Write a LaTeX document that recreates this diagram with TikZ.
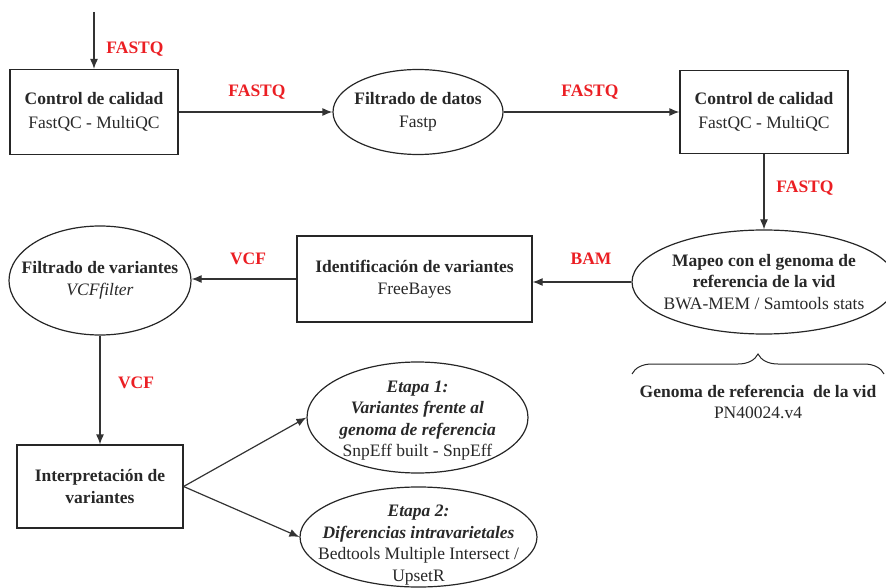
\documentclass[tikz,border=0pt]{standalone}
\usepackage{fontspec}
\setmainfont{Liberation Serif}
\newfontfamily\tnr{Liberation Serif}
\usetikzlibrary{arrows.meta,shapes.geometric,decorations.pathreplacing}
\definecolor{lbl}{RGB}{235,30,35}
\definecolor{txt}{RGB}{40,40,40}
\begin{document}
\begin{tikzpicture}[x=1pt,y=-1pt, font=\tnr\fontsize{17.5}{21.5}\selectfont,
 box/.style={draw=black!85, line width=1.2pt, rectangle, align=center, inner sep=0pt, text=txt},
 ell/.style={draw=black!85, line width=1.2pt, ellipse, inner sep=0pt},
 etxt/.style={align=center, inner sep=0pt, text=txt},
 arr/.style={draw=black!80, line width=1.2pt, -{Latex[length=10pt,width=8pt]}},
 lab/.style={text=lbl, font=\tnr\fontsize{17.5}{21.5}\selectfont\bfseries}]
\useasboundingbox (0,0) rectangle (886,588);

\node[box, minimum width=168pt, minimum height=85pt] (b1) at (94,112) {\textbf{Control de calidad}\\[3pt]FastQC - MultiQC};
\node[ell, minimum width=170pt, minimum height=85pt] (e1) at (418,112) {};
\node[etxt] (e1t) at (e1.center) {\textbf{Filtrado de datos}\\[2pt]Fastp};
\node[box, minimum width=168pt, minimum height=83pt] (b2) at (764,112) {\textbf{Control de calidad}\\[3pt]FastQC - MultiQC};
\node[ell, minimum width=264pt, minimum height=104pt] (map) at (764,282) {};
\node[etxt] (mapt) at (map.center) {\textbf{Mapeo con el genoma de}\\\textbf{referencia de la vid}\\BWA-MEM / Samtools stats};
\node[box, minimum width=235pt, minimum height=86pt] (id) at (414.5,279) {\textbf{Identificación de variantes}\\FreeBayes};
\node[ell, minimum width=182pt, minimum height=109pt] (fv) at (100,280.5) {};
\node[etxt] (fvt) at (fv.center) {\textbf{Filtrado de variantes}\\\textit{VCFfilter}};
\node[box, minimum width=166pt, minimum height=83pt] (ip) at (100,486.5) {\textbf{Interpretación de}\\[1pt]\textbf{variantes}};
\node[ell, minimum width=221pt, minimum height=111pt] (s1) at (417.5,417.5) {};
\node[etxt] (s1t) at ([yshift=-3pt]s1.center) {\textbf{\textit{Etapa 1:}}\\\textbf{\textit{Variantes frente al}}\\\textbf{\textit{genoma de referencia}}\\SnpEff built - SnpEff};
\node[ell, minimum width=237pt, minimum height=100pt] (s2) at (418.5,537) {};
\node[etxt] (s2t) at ([yshift=-8pt]s2.center) {\textbf{\textit{Etapa 2:}}\\\textbf{\textit{Diferencias intravarietales}}\\Bedtools Multiple Intersect /\\UpsetR};

\coordinate (bl) at (632,374);
\coordinate (br) at (884,374);
\draw[decorate, decoration={brace, amplitude=20pt}, line width=1pt, black!85] (bl) -- (br);
\node[etxt] (gen) at (758,402) {\textbf{Genoma de referencia~ de la vid}\\PN40024.v4};

\coordinate (src) at (94,12);
\draw[arr] (src) -- (b1.north);
\draw[arr] (b1.east) -- (e1.west);
\draw[arr] (e1.east) -- (b2.west);
\draw[arr] (b2.south) -- (map.north);
\draw[arr] (map.west) -- (map.west -| id.east);
\draw[arr] (id.west) -- (id.west -| fv.east);
\draw[arr] (fv.south) -- (ip.north);
\draw[arr] (ip.east) -- (s1.west);
\draw[arr] (ip.east) -- (s2.west);

\node[lab] (l1) at (135,49) {FASTQ};
\node[lab] (l2) at (257,92) {FASTQ};
\node[lab] (l3) at (590,92) {FASTQ};
\node[lab] (l4) at (805,188) {FASTQ};
\node[lab] (l5) at (591,259) {BAM};
\node[lab] (l6) at (248,259) {VCF};
\node[lab] (l7) at (136,383) {VCF};
\end{tikzpicture}
\end{document}
